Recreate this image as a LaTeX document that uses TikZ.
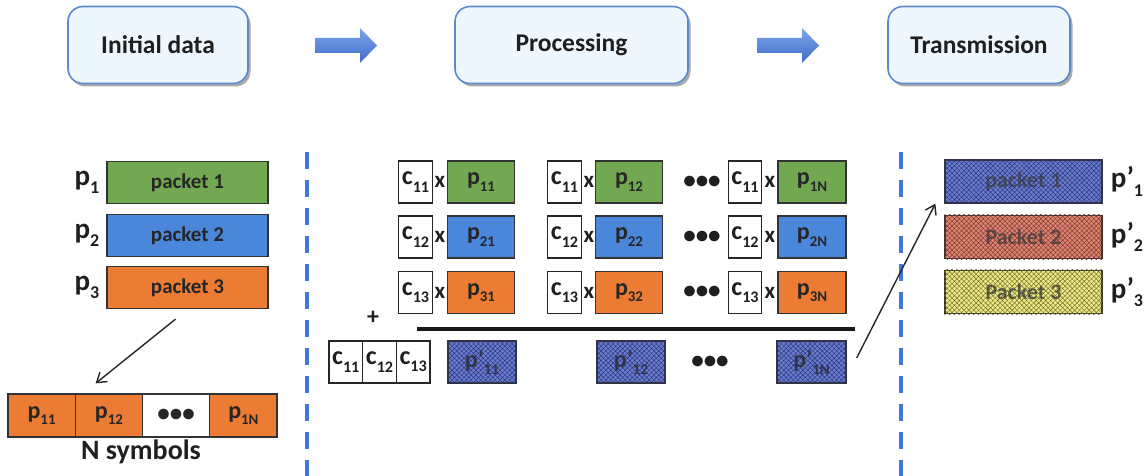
\documentclass[tikz,border=0pt]{standalone}
\usepackage{fontspec}
\setmainfont{Carlito}
\usetikzlibrary{calc,arrows.meta,shadows,patterns.meta}

\definecolor{pgreen}{HTML}{72A852}
\definecolor{pblue}{HTML}{4A86DA}
\definecolor{porange}{HTML}{EC7B33}
\definecolor{hblue}{HTML}{6A7CD0}
\definecolor{hblueline}{HTML}{2C3478}
\definecolor{hred}{HTML}{E08472}
\definecolor{hredline}{HTML}{7A3A30}
\definecolor{hyel}{HTML}{ECEA84}
\definecolor{hyelline}{HTML}{72702E}
\definecolor{stageline}{HTML}{5B89CF}
\definecolor{stagefill}{HTML}{EEF7FD}
\definecolor{dividerblue}{HTML}{4277DE}
\definecolor{flowtop}{HTML}{7FA6EA}
\definecolor{flowbot}{HTML}{3E6BC9}

% lowered, reduced index
\newcommand{\sbs}[1]{\raisebox{-0.28em}{\scalebox{0.62}{#1}}}

\begin{document}
\begin{tikzpicture}[x=1pt,y=-1pt,
  stage/.style={draw=stageline, line width=1.6pt, rounded corners=15pt,
    fill=stagefill, minimum height=77pt, inner sep=0pt,
    font=\fontsize{25.5}{28}\selectfont\bfseries, text=black!88,
    drop shadow={shadow xshift=2.5pt, shadow yshift=-3pt, fill=black!65, opacity=0.5}},
  flowarrow/.style={top color=flowtop, bottom color=flowbot, draw=none},
  divider/.style={draw=dividerblue, line width=3.5pt, dash pattern=on 17pt off 11pt},
  pkt/.style={draw=black!80, line width=1.3pt, minimum width=161pt, minimum height=42pt,
    inner sep=0pt, font=\fontsize{21}{23}\selectfont\bfseries, text=black!85},
  rpkt/.style={pkt, minimum width=157pt, minimum height=43pt, text=black!70,
    font=\fontsize{22}{24}\selectfont\bfseries},
  plabel/.style={inner sep=0pt, font=\fontsize{29}{31}\selectfont\bfseries, text=black!88},
  cell/.style={draw=black!80, line width=1.3pt, minimum height=43pt, minimum width=67.25pt,
    inner sep=0pt, font=\fontsize{24}{26}\selectfont\bfseries, text=black!85},
  cbox/.style={draw=black!85, line width=1.3pt, fill=white, minimum width=33.5pt,
    minimum height=42pt, inner sep=0pt, font=\fontsize{26}{28}\selectfont\bfseries, text=black!88},
  gbox/.style={draw=black!80, line width=1.3pt, minimum width=67pt, minimum height=42pt,
    inner sep=0pt, font=\fontsize{24}{26}\selectfont\bfseries, text=black!85},
  qbox/.style={gbox, fill=hblue, text=black!80},
  times/.style={inner sep=0pt, font=\fontsize{23}{25}\selectfont\bfseries, text=black!88},
  dots/.style={inner sep=0pt, font=\fontsize{25}{27}\selectfont\bfseries, text=black!88},
  conn/.style={draw=black!85, line width=1.4pt, -{Straight Barb[length=9pt,width=12pt,line width=1.4pt]}},
  sumline/.style={draw=black!90, line width=3.5pt},
  hatch/.style={pattern={Hatch[angle=45,distance=3.4pt,line width=0.45pt]}, pattern color=#1}
]
\useasboundingbox (0,0) rectangle (1148,476);
\fill[white] (0,0) rectangle (1148,476);

% stage headers
\node[stage, minimum width=180pt] (init) at (158,45) {Initial data};
\node[stage, minimum width=233pt] (proc) at (571.5,45) {Processing};
\node[stage, minimum width=182pt] (trans) at (979,45) {Transmission};

% block arrows between the stages
\coordinate (f1) at (315,45.5);
\coordinate (f2) at (757,45.5);
\foreach \f in {f1,f2}
  \shade[flowarrow] ($(\f)+(0,-7.5)$) -- ($(\f)+(45,-7.5)$) -- ($(\f)+(45,-17.5)$)
    -- ($(\f)+(62,0)$) -- ($(\f)+(45,17.5)$) -- ($(\f)+(45,7.5)$) -- ($(\f)+(0,7.5)$) -- cycle;

% column dividers
\draw[divider] (307,152) -- (307,476);
\draw[divider] (901,152) -- (901,476);

% ---- initial data ----
\node[pkt, fill=pgreen] (pk1) at (187.5,182.5) {packet 1};
\node[pkt, fill=pblue] (pk2) at (187.5,235.5) {packet 2};
\node[pkt, fill=porange] (pk3) at (187.5,287.5) {packet 3};
\node[plabel] (lp1) at (87,182.5) {p\sbs{1}};
\node[plabel] (lp2) at (87,235.5) {p\sbs{2}};
\node[plabel] (lp3) at (87,287.5) {p\sbs{3}};

\node[cell, fill=porange] (s1) at (41.6,415.5) {p\sbs{11}};
\node[cell, fill=porange] (s2) at (108.9,415.5) {p\sbs{12}};
\node[cell, fill=white, font=\fontsize{25}{27}\selectfont\bfseries] (s3) at (176.1,415.5) {•••};
\node[cell, fill=porange] (s4) at (243.4,415.5) {p\sbs{1N}};
\node[inner sep=0pt, font=\fontsize{28}{30}\selectfont\bfseries, text=black!88] (nsym) at (141,452) {N symbols};

\draw[conn] ($(pk3.south)+(-12,10)$) -- ($(s2.north west)+(21,-10)$);

% ---- processing: weighted packets ----
\foreach \r/\y/\col/\ci in {1/182/pgreen/11, 2/237/pblue/12, 3/292.5/porange/13} {
  \node[cbox] (ca\r) at (415.5,\y) {c\sbs{\ci}};
  \node[times] (xa\r) at (440,\y) {x};
  \node[gbox, fill=\col] (pa\r) at (481,\y) {p\sbs{\r1}};
  \node[cbox] (cb\r) at (564.5,\y) {c\sbs{\ci}};
  \node[times] (xb\r) at (589,\y) {x};
  \node[gbox, fill=\col] (pb\r) at (629,\y) {p\sbs{\r2}};
  \node[dots] (db\r) at (702,\y) {•••};
  \node[cbox] (cc\r) at (745,\y) {c\sbs{\ci}};
  \node[times] (xc\r) at (770,\y) {x};
  \node[gbox, fill=\col, minimum width=68pt] (pc\r) at (812,\y) {p\sbs{\r N}};
}

\node[inner sep=0pt, font=\fontsize{24}{26}\selectfont\bfseries, text=black!88] (plus) at (373,318) {+};
\draw[sumline] (417,329) -- (855,329);

% coded result
\node[cbox, minimum width=33.7pt] (k1) at (345.8,362) {c\sbs{11}};
\node[cbox, minimum width=33.7pt] (k2) at (379.5,362) {c\sbs{12}};
\node[cbox, minimum width=33.7pt] (k3) at (413.2,362) {c\sbs{13}};
\node[qbox, minimum width=68pt] (q11) at (482,362) {p’\sbs{11}};
\node[qbox, minimum width=68pt] (q12) at (631,362) {p’\sbs{12}};
\node[dots] (qd) at (710,362) {•••};
\node[qbox, minimum width=69pt] (q1N) at (811.5,362) {p’\sbs{1N}};
\foreach \n in {q11,q12,q1N}
  \fill[hatch=hblueline] (\n.south west) rectangle (\n.north east);

% ---- transmission ----
\node[rpkt, fill=hblue] (r1) at (1023.5,181.5) {packet 1};
\node[rpkt, fill=hred] (r2) at (1023.5,237) {Packet 2};
\node[rpkt, fill=hyel] (r3) at (1023.5,292) {Packet 3};
\fill[hatch=hblueline] (r1.south west) rectangle (r1.north east);
\fill[hatch=hredline] (r2.south west) rectangle (r2.north east);
\fill[hatch=hyelline] (r3.south west) rectangle (r3.north east);
\node[plabel] (rp1) at (1127,181.5) {p’\sbs{1}};
\node[plabel] (rp2) at (1127,237) {p’\sbs{2}};
\node[plabel] (rp3) at (1127,292) {p’\sbs{3}};

\draw[conn] ($(q1N.east)+(10,-4)$) -- ($(r1.south west)+(-9,0)$);
\end{tikzpicture}
\end{document}
